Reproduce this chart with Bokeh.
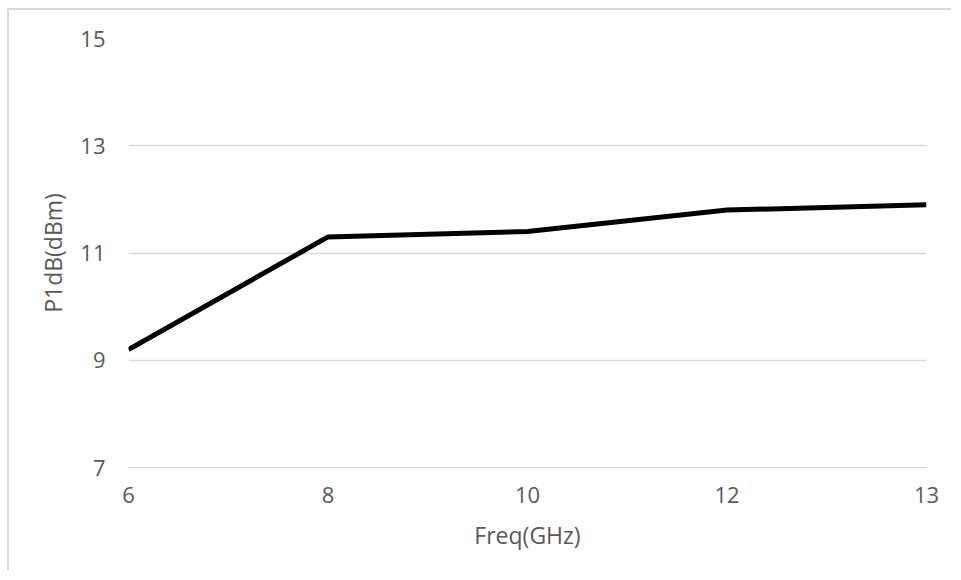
from bokeh.plotting import figure
from bokeh.models import Range1d, FixedTicker
from bokeh.embed import file_html
from bokeh.resources import INLINE

freq_labels = ["6", "8", "10", "12", "13"]
p1db = [9.2, 11.3, 11.4, 11.8, 11.9]
y_ticks = [7, 9, 11, 13, 15]

FONT = "Open Sans"
TXT = "#595959"
GRID = "#d9d9d9"
FS = "22px"

xs = list(range(len(freq_labels)))

p = figure(width=944, height=562, output_backend="svg", toolbar_location=None,
           x_range=Range1d(0, len(freq_labels) - 1), y_range=Range1d(7, 15),
           min_border_left=119, min_border_top=28, min_border_right=27,
           min_border_bottom=105)
p.border_fill_color = "white"
p.background_fill_color = "white"
p.outline_line_color = None
p.styles = {"border-left": "2px solid #d9d9d9", "border-top": "2px solid #d9d9d9",
            "margin-left": "7px", "margin-top": "8px"}

p.line(xs, p1db, line_color="black", line_width=5, line_join="miter")

p.xaxis.ticker = FixedTicker(ticks=xs)
p.xaxis.major_label_overrides = {i: lab for i, lab in enumerate(freq_labels)}
p.yaxis.ticker = FixedTicker(ticks=y_ticks)

for ax in (p.xaxis[0], p.yaxis[0]):
    ax.major_tick_line_color = None
    ax.minor_tick_line_color = None
    ax.major_tick_out = 0
    ax.major_tick_in = 0
    ax.major_label_text_font = FONT
    ax.major_label_text_font_size = FS
    ax.major_label_text_color = TXT
    ax.axis_label_text_font = FONT
    ax.axis_label_text_font_size = "23px"
    ax.axis_label_text_color = TXT
    ax.axis_label_text_font_style = "normal"

p.xaxis.axis_line_color = GRID
p.xaxis.axis_line_width = 1
p.yaxis.axis_line_color = None

p.xaxis.axis_label = "Freq(GHz)"
p.yaxis.axis_label = "P1dB(dBm)"
p.xaxis.major_label_standoff = 19
p.xaxis.axis_label_standoff = 13
p.yaxis.major_label_standoff = 23
p.yaxis.axis_label_standoff = 8

p.xgrid.grid_line_color = None
p.ygrid.grid_line_color = GRID
p.ygrid.grid_line_width = 1.5

open("out.html", "w").write(file_html(p, INLINE))
